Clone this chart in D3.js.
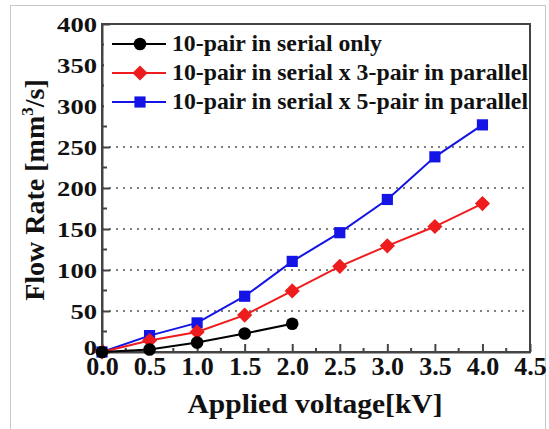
<!DOCTYPE html>
<html><head><meta charset="utf-8">
<script src="https://cdn.jsdelivr.net/npm/d3@7"></script>
<style>body{margin:0;background:#fff}svg{display:block}</style>
</head><body><svg id="c" width="549" height="429"></svg>
<script>
const xTicks = [0, 0.5, 1.0, 1.5, 2.0, 2.5, 3.0, 3.5, 4.0, 4.5];
const yTicks = [0, 50, 100, 150, 200, 250, 300, 350, 400];
const seriesNames = ["10-pair in serial only", "10-pair in serial x 3-pair in parallel", "10-pair in serial x 5-pair in parallel"];
const serialX = [0, 0.5, 1.0, 1.5, 2.0];
const serialY = [0, 3, 11.5, 22.5, 34.5];
const par3X = [0, 0.5, 1.0, 1.5, 2.0, 2.5, 3.0, 3.5, 4.0];
const par3Y = [0, 14, 24.5, 45, 74.5, 104.5, 129.5, 153, 181];
const par5X = [0, 0.5, 1.0, 1.5, 2.0, 2.5, 3.0, 3.5, 4.0];
const par5Y = [0, 20, 35.5, 68, 110.5, 145.5, 186, 238, 277];

const ctx = document.createElement("canvas").getContext("2d");
function has(f) {
  const s = "10-pair in serial xWmgil";
  ctx.font = "bold 30px monospace"; const a = ctx.measureText(s).width;
  ctx.font = `bold 30px "${f}", monospace`; const b = ctx.measureText(s).width;
  return Math.abs(a - b) > 0.5;
}
const cands = ["Liberation Serif", "Times New Roman", "Tinos", "Nimbus Roman", "FreeSerif", "Noto Serif", "DejaVu Serif"];
const found = cands.find(has) || "serif";
const FONT = `"${found}", serif`;

const svg = d3.select("#c");
const L = 102, R = 530, T = 24, B = 352;
const x = d3.scaleLinear().domain([0, 4.5]).range([L, R]);
const y = d3.scaleLinear().domain([0, 400]).range([B, T]);

svg.append("rect").attr("x", 10.5).attr("y", 5.5).attr("width", 535).attr("height", 430)
  .attr("fill", "none").attr("stroke", "#c8c8c8").attr("stroke-width", 1);

svg.append("g").selectAll("line").data(yTicks.filter(d => d > 0 && d < 400)).join("line")
  .attr("x1", L).attr("x2", R).attr("y1", d => y(d)).attr("y2", d => y(d))
  .attr("stroke", "#555").attr("stroke-width", 1.5).attr("stroke-dasharray", "2,5");

svg.append("rect").attr("x", L).attr("y", T).attr("width", R - L).attr("height", B - T)
  .attr("fill", "none").attr("stroke", "#444").attr("stroke-width", 2);

function styleText(sel, size) {
  sel.attr("font-family", FONT).attr("font-weight", "bold").attr("font-size", size).attr("fill", "#111");
}

const xAxis = d3.axisBottom(x).tickValues(xTicks).tickSizeInner(-8).tickSizeOuter(0).tickFormat(d3.format(".1f")).tickPadding(5);
const gx = svg.append("g").attr("transform", `translate(0,${B})`).call(xAxis);
gx.select(".domain").attr("stroke", "#444").attr("stroke-width", 2);
gx.selectAll(".tick line").attr("stroke", "#444").attr("stroke-width", 2);
styleText(gx.selectAll("text"), 26);
svg.append("g").selectAll("line").data(d3.range(0.25, 4.5, 0.5)).join("line")
  .attr("x1", d => x(d)).attr("x2", d => x(d)).attr("y1", B).attr("y2", B - 4)
  .attr("stroke", "#444").attr("stroke-width", 2);

const yAxis = d3.axisLeft(y).tickValues(yTicks).tickSizeInner(-8).tickSizeOuter(0).tickPadding(5);
const gy = svg.append("g").attr("transform", `translate(${L},0)`).call(yAxis);
gy.select(".domain").attr("stroke", "#444").attr("stroke-width", 2);
gy.selectAll(".tick line").attr("stroke", "#444").attr("stroke-width", 2);
styleText(gy.selectAll("text"), 22);
gy.selectAll("text").attr("textLength", d => String(d).length * 13.3).attr("lengthAdjust", "spacingAndGlyphs")
  .attr("y", d => d === 0 ? -5 : 0);
svg.append("g").selectAll("line").data(d3.range(25, 400, 50)).join("line")
  .attr("x1", L).attr("x2", L + 5).attr("y1", d => y(d)).attr("y2", d => y(d))
  .attr("stroke", "#444").attr("stroke-width", 2);

const xt = svg.append("text").attr("x", 315).attr("y", 413).attr("text-anchor", "middle")
  .attr("textLength", 255).attr("lengthAdjust", "spacingAndGlyphs").text("Applied voltage[kV]");
styleText(xt, 28);
const yt = svg.append("text").attr("transform", "translate(44,190) rotate(-90)").attr("text-anchor", "middle");
styleText(yt, 28);
yt.append("tspan").text("Flow Rate [mm");
yt.append("tspan").attr("font-size", 17).attr("dy", -11).text("3");
yt.append("tspan").attr("dy", 11).text("/s]");

const diamond = d3.symbol().type({draw(c, size) { const r = Math.sqrt(size / 2); c.moveTo(0, -r); c.lineTo(r, 0); c.lineTo(0, r); c.lineTo(-r, 0); c.closePath(); }});
const series = [
  {xs: serialX, ys: serialY, color: "#000", sym: d3.symbol().type(d3.symbolCircle).size(125)},
  {xs: par3X, ys: par3Y, color: "#ee1c1c", sym: diamond.size(115)},
  {xs: par5X, ys: par5Y, color: "#1414e6", sym: d3.symbol().type(d3.symbolSquare).size(125)},
];
const line = d3.line().x(d => x(d[0])).y(d => y(d[1]));
[2, 1, 0].forEach(i => {
  const s = series[i];
  const pts = s.xs.map((v, j) => [v, s.ys[j]]);
  svg.append("path").datum(pts).attr("d", line).attr("fill", "none").attr("stroke", s.color).attr("stroke-width", 2);
  svg.append("g").selectAll("path").data(pts).join("path")
    .attr("transform", d => `translate(${x(d[0])},${y(d[1])})`)
    .attr("d", s.sym()).attr("fill", s.color);
});

const lg = svg.append("g");
lg.append("rect").attr("x", L + 2).attr("y", T + 2).attr("width", R - L - 4).attr("height", 92).attr("fill", "#fff");
const legW = [210, 356, 356];
series.forEach((s, i) => {
  const yy = 44 + i * 29;
  lg.append("line").attr("x1", 112).attr("x2", 166).attr("y1", yy).attr("y2", yy).attr("stroke", s.color).attr("stroke-width", 2);
  lg.append("path").attr("transform", `translate(140,${yy})`).attr("d", s.sym()).attr("fill", s.color);
  const t = lg.append("text").attr("x", 172).attr("y", yy + 7)
    .attr("textLength", legW[i]).attr("lengthAdjust", "spacingAndGlyphs").text(seriesNames[i]);
  styleText(t, 23);
});
</script></body></html>
